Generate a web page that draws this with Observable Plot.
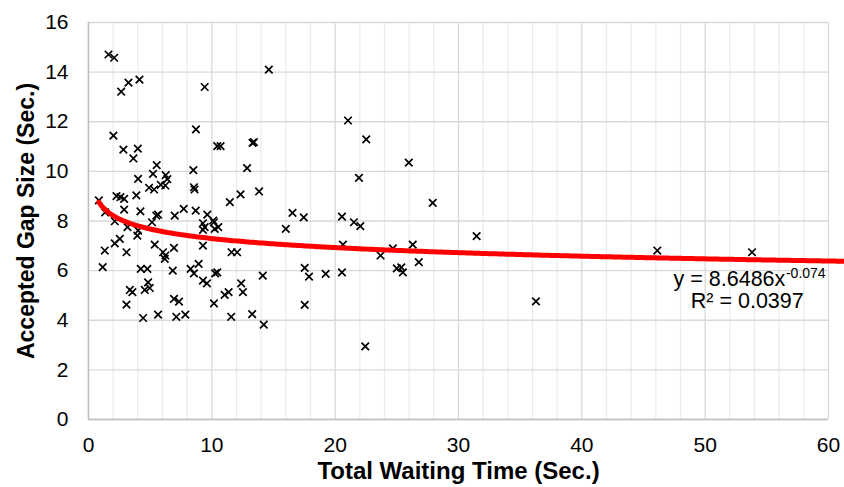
<!DOCTYPE html>
<html><head><meta charset="utf-8">
<script src="https://cdn.jsdelivr.net/npm/d3@7"></script>
<script src="https://cdn.jsdelivr.net/npm/@observablehq/plot@0.6"></script>
<style>body{margin:0;background:#fff;} svg{display:block;}</style>
</head><body><div id="chart"></div>
<script>
// Total waiting time (s) and accepted gap size (s)
const waitTime = [
  1.62,2.08,2.65,3.24,4.13,9.42,14.62,2.02,8.71,10.44,10.71,13.41,13.30,2.83,4.00,3.64,5.53,12.86,8.50,21.04,22.52,25.97,
  5.23,6.26,6.39,6.23,4.02,4.91,5.32,5.86,8.55,8.60,2.27,2.59,2.89,3.88,12.33,13.83,21.93,
  0.84,2.89,4.21,1.35,5.50,5.64,6.99,7.72,8.69,9.63,11.46,16.54,17.45,27.91,20.55,10.11,
  5.15,2.13,3.16,4.02,3.96,9.28,9.42,9.28,10.17,10.23,10.52,2.54,2.13,5.37,9.28,16.00,21.52,22.04,31.47,20.63,26.29,
  1.32,3.08,6.04,6.23,6.18,6.93,11.60,12.05,24.68,23.68,26.78,1.15,4.24,4.77,6.83,8.28,8.93,25.00,25.36,17.53,46.12,53.80,
  8.55,9.28,9.60,10.27,10.44,14.13,17.88,19.23,20.55,25.49,3.35,3.56,4.56,4.83,4.97,11.04,11.36,12.38,12.52,
  3.08,6.93,7.34,10.17,4.43,5.64,7.12,7.85,11.57,13.27,14.21,17.53,36.28,22.44
];
const gapSize = [
  14.71,14.58,13.21,13.58,13.70,13.40,14.10,11.44,11.69,11.02,11.02,11.18,11.15,10.88,10.92,10.52,10.25,10.13,10.05,12.05,11.29,10.35,
  9.90,9.85,9.69,9.43,9.70,9.34,9.27,9.46,9.36,9.27,9.00,8.96,8.89,9.03,9.07,9.19,9.74,
  8.83,8.46,8.39,8.35,8.22,8.26,8.22,8.49,8.42,8.26,8.76,8.33,8.15,8.73,8.18,8.02,
  7.95,7.99,7.75,7.61,7.41,7.91,7.75,7.64,7.95,7.68,7.75,7.28,7.10,7.05,7.01,7.68,7.95,7.79,7.39,7.05,7.05,
  6.81,6.74,6.74,6.61,6.47,6.92,6.74,6.74,6.90,6.61,6.34,6.14,6.07,6.07,6.00,6.07,6.27,6.09,6.13,6.11,6.81,6.74,
  5.89,5.60,5.49,5.89,5.93,5.80,5.76,5.87,5.93,5.93,5.22,5.13,5.22,5.53,5.30,5.02,5.13,5.49,5.13,
  4.63,4.86,4.75,4.68,4.09,4.23,4.14,4.23,4.14,4.25,3.82,4.62,4.76,2.95
];

// Axis ticks
const xTicks = [0, 10, 20, 30, 40, 50, 60];
const xMinorGrid = [2,4,6,8,12,14,16,18,22,24,26,28,32,34,36,38,42,44,46,48,52,54,56,58];
const yTicks = [0, 2, 4, 6, 8, 10, 12, 14, 16];

// Power trendline shown on the chart: y = 8.6486 x^-0.074
const trendA = 8.6486;
const trendB = -0.074;
const trendStart = 0.84;
const trendEnd = 61.3;

// Text
const xTitle = "Total Waiting Time (Sec.)";
const yTitle = "Accepted Gap Size (Sec.)";
const eqMain = "y = 8.6486x";
const eqExp = "-0.074";
const eqR2 = "R² = 0.0397";
const eqMainPos = {x: 56.5, y: 5.67};
const eqExpPos = {x: 56.55, y: 5.90};
const eqR2Pos = {x: 57.99, y: 4.78};

const points = waitTime.map((t, i) => ({t, g: gapSize[i]}));
const trend = d3.range(0, 301).map(i => {
  const x = trendStart + (trendEnd - trendStart) * i / 300;
  return {x, y: trendA * Math.pow(x, trendB)};
});

const chart = Plot.plot({
  width: 844,
  height: 487,
  marginLeft: 88,
  marginRight: 16,
  marginTop: 22,
  marginBottom: 68,
  style: {fontFamily: "'Liberation Sans', Arial, sans-serif", background: "#fff", color: "#000", overflow: "visible"},
  x: {domain: [0, 60]},
  y: {domain: [0, 16]},
  marks: [
    Plot.ruleX(xMinorGrid, {stroke: "#ebebeb", strokeWidth: 1.2}),
    Plot.ruleX(xTicks, {stroke: "#d9d9d9", strokeWidth: 1.3}),
    Plot.ruleY(yTicks, {stroke: "#d9d9d9", strokeWidth: 1.3}),
    Plot.ruleX([0], {stroke: "#bfbfbf", strokeWidth: 1.5}),
    Plot.ruleY([0], {stroke: "#bfbfbf", strokeWidth: 1.5}),
    Plot.axisX({ticks: xTicks, tickSize: 0, tickPadding: 18, fontSize: 21, label: null}),
    Plot.axisY({ticks: yTicks, tickSize: 0, tickPadding: 20, fontSize: 21, label: null}),
    Plot.dot(points, {x: "t", y: "g", symbol: "times", r: 3.5, stroke: "#000", strokeWidth: 1.7}),
    Plot.line(trend, {x: "x", y: "y", stroke: "#ff0000", strokeWidth: 5}),
    Plot.text([eqMain], {x: () => eqMainPos.x, y: () => eqMainPos.y, textAnchor: "end", fontSize: 21.5, fill: "#000"}),
    Plot.text([eqExp], {x: () => eqExpPos.x, y: () => eqExpPos.y, textAnchor: "start", fontSize: 14, fill: "#000"}),
    Plot.text([eqR2], {x: () => eqR2Pos.x, y: () => eqR2Pos.y, textAnchor: "end", fontSize: 21.5, fill: "#000"}),
    Plot.text([xTitle], {frameAnchor: "bottom", dy: 52, textAnchor: "middle", lineAnchor: "middle", fontSize: 24, fontWeight: "bold", fill: "#000"}),
    Plot.text([yTitle], {frameAnchor: "left", dx: -62, rotate: -90, textAnchor: "middle", lineAnchor: "middle", fontSize: 23, fontWeight: "bold", fill: "#000"})
  ]
});
document.getElementById("chart").appendChild(chart);
</script>
</body></html>
